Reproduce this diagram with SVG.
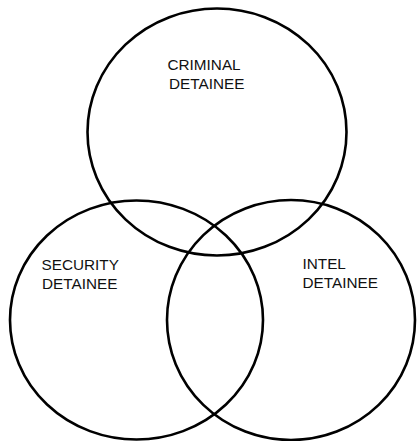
<svg xmlns="http://www.w3.org/2000/svg" width="417" height="441" viewBox="0 0 417 441">
<style>
.set{fill:none;stroke:#000;stroke-width:2.6}
.lbl{font-family:"Liberation Sans",Arial,sans-serif;font-size:15.3px;fill:#111}
</style>
<rect width="417" height="441" fill="#fff"/>
<g id="criminal">
<ellipse class="set" cx="217" cy="132" rx="129.5" ry="123.5"/>
<text class="lbl" x="167.5" y="70">CRIMINAL</text>
<text class="lbl" x="169" y="88.5">DETAINEE</text>
</g>
<g id="security">
<ellipse class="set" cx="136.5" cy="320" rx="126.5" ry="119.5"/>
<text class="lbl" x="41.5" y="270">SECURITY</text>
<text class="lbl" x="42" y="288.5">DETAINEE</text>
</g>
<g id="intel">
<ellipse class="set" cx="291" cy="320" rx="124" ry="120"/>
<text class="lbl" x="302.5" y="268.5">INTEL</text>
<text class="lbl" x="302.5" y="288">DETAINEE</text>
</g>
<g id="connectors"></g>
</svg>
